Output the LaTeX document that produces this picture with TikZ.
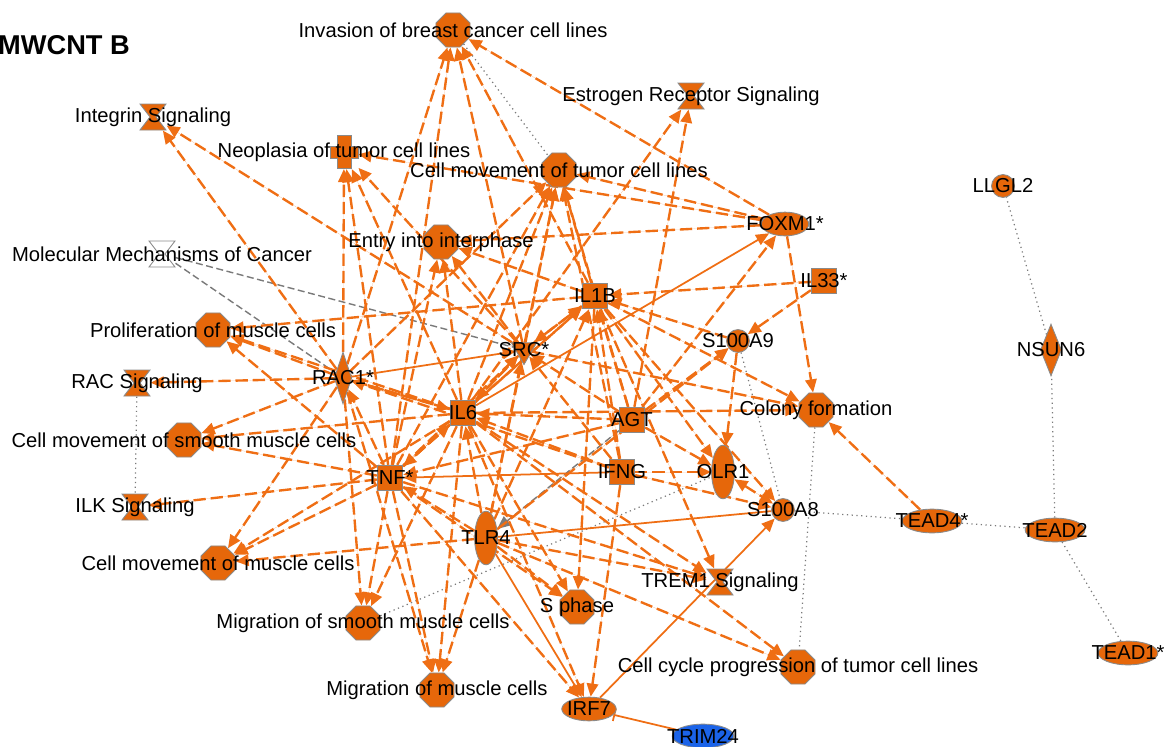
\documentclass[tikz,border=0pt]{standalone}
\usepackage{fontspec}
\setmainfont{Liberation Sans}
\usetikzlibrary{arrows.meta, calc, backgrounds, shapes.geometric}
\definecolor{ipaorange}{HTML}{E6670A}
\definecolor{edgeorange}{HTML}{EF6E14}
\definecolor{shapegray}{HTML}{8A8A8A}
\definecolor{downblue}{HTML}{1B63E8}
\definecolor{linkgray}{HTML}{7A7A7A}

\begin{document}
\begin{tikzpicture}[
    x=0.02cm, y=-0.02cm,
    font=\fontsize{11.5}{13}\selectfont,
    >={Triangle[length=7.5pt, width=6.5pt]},
    base/.style={
        draw=shapegray, fill=ipaorange, line width=0.5pt, inner sep=0pt,
    },
    func/.style={base, regular polygon, regular polygon sides=8, minimum size=21pt},
    cyto/.style={base, rectangle, minimum width=14.5pt, minimum height=14.5pt},
    kinase/.style={base, regular polygon, regular polygon sides=3,
        shape border rotate=180, minimum size=16.5pt},
    enzyme/.style={base, diamond, aspect=0.35, minimum width=10pt, minimum height=29.5pt},
    other/.style={base, circle, minimum size=13pt},
    treg/.style={base, ellipse, minimum width=30pt, minimum height=13.5pt},
    recep/.style={base, ellipse, minimum width=13pt, minimum height=30.5pt},
    pathway/.style={inner sep=0pt, minimum width=15pt, minimum height=15pt},
    disease/.style={inner sep=0pt, minimum width=16pt, minimum height=19pt},
    lbl/.style={inner sep=0pt, text=black},
    act/.style={
        ->, draw=edgeorange, fill=edgeorange, line width=1.35pt,
        dash pattern=on 7pt off 2.8pt,
    },
    direct/.style={->, draw=edgeorange, fill=edgeorange, line width=1pt},
    assoc/.style={draw=linkgray, line width=0.7pt, dotted},
    pred/.style={draw=linkgray, line width=0.8pt, dash pattern=on 4pt off 2pt},
]
\useasboundingbox (0,0) rectangle (1167,747);

% Title
\node[font=\fontsize{15.5}{18}\selectfont\bfseries, anchor=west] (title) at (-8,45) {MWCNT B};

% Functions (octagons)
\node[func, label={[lbl]center:Invasion of breast cancer cell lines}] (inv) at (453,30) {};
\node[func, label={[lbl]center:Cell movement of tumor cell lines}] (cmtum) at (559,170) {};
\node[func, label={[lbl]center:Entry into interphase}] (entry) at (441,242) {};
\node[func, label={[lbl]center:Proliferation of muscle cells}] (prolif) at (213,330) {};
\node[func, label={[lbl]center:Colony formation}] (colony) at (816,410) {};
\node[func, label={[lbl]center:Cell movement of smooth muscle cells}] (cmsmc) at (184,440) {};
\node[func, label={[lbl]center:Cell movement of muscle cells}] (cmmc) at (218,563) {};
\node[func, label={[lbl]center:S phase}] (sph) at (577,607) {};
\node[func, label={[lbl]center:Migration of smooth muscle cells}] (migsmc) at (363,623) {};
\node[func, label={[lbl]center:Cell cycle progression of tumor cell lines}] (ccp) at (798,667) {};
\node[func, label={[lbl]center:Migration of muscle cells}] (migmc) at (437,690) {};

% Pathways and disease (shapes drawn below)
\node[pathway, label={[lbl]center:Integrin Signaling}] (integ) at (153,117) {};
\node[pathway, label={[lbl]center:Estrogen Receptor Signaling}] (estr) at (691,96) {};
\node[pathway, label={[lbl]center:Molecular Mechanisms of Cancer}] (mmc) at (162,254) {};
\node[pathway, label={[lbl]center:RAC Signaling}] (racsig) at (137,383) {};
\node[pathway, label={[lbl]center:ILK Signaling}] (ilk) at (135,507) {};
\node[pathway, label={[lbl]center:TREM1 Signaling}] (trem) at (720,582) {};
\node[disease, label={[lbl]center:Neoplasia of tumor cell lines}] (neo) at (344,152) {};

% Molecules
\node[treg, minimum width=27pt, label={[lbl]center:FOXM1*}] (foxm) at (785,224) {};
\node[cyto, label={[lbl]center:IL33*}] (il33) at (824,281) {};
\node[cyto, label={[lbl]center:IL1B}] (ilb) at (595,296) {};
\node[other, label={[lbl]center:S100A9}] (s9) at (738,341) {};
\node[kinase, label={[lbl]center:SRC*}] (src) at (524,350) {};
\node[enzyme, label={[lbl]center:RAC1*}] (rac) at (343,378) {};
\node[cyto, label={[lbl]center:IL6}] (il6) at (463,413) {};
\node[cyto, label={[lbl]center:AGT}] (agt) at (632,420) {};
\node[cyto, label={[lbl]center:IFNG}] (ifng) at (622,472) {};
\node[recep, label={[lbl]center:OLR1}] (olr) at (723,472) {};
\node[cyto, label={[lbl]center:TNF*}] (tnf) at (390,478) {};
\node[other, label={[lbl]center:S100A8}] (s8) at (783,510) {};
\node[recep, label={[lbl]center:TLR4}] (tlr) at (486,538) {};
\node[treg, minimum width=31pt, label={[lbl]center:IRF7}] (irf) at (589,709) {};
\node[treg, fill=downblue, minimum width=35pt, label={[lbl]center:TRIM24}] (trim) at (703,736) {};
\node[other, label={[lbl]center:LLGL2}] (llgl) at (1003,186) {};
\node[enzyme, minimum width=12pt, label={[lbl]center:NSUN6}] (nsun) at (1051,350) {};
\node[treg, minimum width=34pt, label={[lbl]center:TEAD4*}] (tead4) at (932,521) {};
\node[treg, minimum width=34pt, label={[lbl]center:TEAD2}] (tead2) at (1055,530) {};
\node[treg, minimum width=34pt, label={[lbl]center:TEAD1*}] (tead1) at (1128,653) {};

\begin{scope}[on background layer]
% Associations
\foreach \a/\b in {inv/cmtum, racsig/ilk, s9/s8, colony/ccp, s8/tead4, tead4/tead2,
    tead2/tead1, tead2/nsun, nsun/llgl, migsmc/olr}
    \draw[assoc] (\a) -- (\b);
\draw[pred] (mmc) -- (rac);
\draw[pred] (mmc) -- (src);
\draw[pred, ->, fill=linkgray] (agt) -- (tlr);

% Indirect activation
\foreach \a/\b in {rac/inv, src/inv, ilb/inv, foxm/inv, tnf/inv,
    rac/integ, src/integ,
    rac/neo, tnf/neo, il6/neo, src/neo, foxm/neo,
    il6/estr, agt/estr,
    rac/cmtum, tnf/cmtum, il6/cmtum, src/cmtum, ilb/cmtum, agt/cmtum, foxm/cmtum, tlr/cmtum, ifng/cmtum,
    tnf/entry, il6/entry, src/entry, foxm/entry, ilb/entry,
    rac/prolif, il6/prolif, ilb/prolif, tnf/prolif,
    rac/racsig, rac/cmsmc, il6/cmsmc, tnf/cmsmc, tnf/ilk,
    tnf/cmmc, rac/cmmc, il6/cmmc, tlr/cmmc,
    rac/migsmc, tnf/migsmc, il6/migsmc,
    tnf/migmc, il6/migmc, tlr/migmc, rac/migmc,
    tnf/sph, il6/sph, tlr/sph, ilb/sph,
    tlr/ccp, il6/ccp,
    il6/trem, tnf/trem, tlr/trem, ilb/trem,
    ifng/irf, tnf/irf, il6/irf,
    foxm/colony, ilb/colony, src/colony, tead4/colony, il6/colony,
    il33/s9, agt/s9, tlr/s9, agt/foxm,
    s9/ilb, il33/ilb, src/ilb, agt/ilb, ifng/ilb, tlr/ilb, tnf/ilb, il6/ilb,
    s9/olr, ifng/olr, agt/olr, ilb/olr, ifng/s8, ilb/s8,
    ilb/src, il6/src, tnf/src, agt/src, tlr/src, ifng/src,
    src/il6, tnf/il6, agt/il6, ifng/il6, tlr/il6, rac/il6,
    il6/rac, tnf/rac, ifng/rac,
    tlr/tnf, agt/tnf, il6/tnf}
    \draw[act] (\a) -- (\b);
\draw[act, <->] (olr) -- (s8);

% Direct links
\foreach \a/\b in {rac/src, il6/foxm, ifng/tnf, tlr/irf, irf/s8}
    \draw[direct] (\a) -- (\b);
\draw[direct, -] (tlr) -- (s8);
\draw[direct, -{Bar[width=7pt]}] (trim) -- (irf);

% Pathway and disease shapes
\foreach \n in {integ, estr, racsig, ilk, trem}
    \filldraw[shift={(\n)}, fill=ipaorange, draw=shapegray, line width=0.5pt]
        (-13,-13) -- (13,-13) -- (3,0) -- (13,13) -- (-13,13) -- (-3,0) -- cycle;
\filldraw[shift={(mmc)}, fill=white, draw=shapegray, line width=0.5pt]
    (-13,-13) -- (13,-13) -- (3,0) -- (13,13) -- (-13,13) -- (-3,0) -- cycle;
\filldraw[shift={(neo)}, fill=ipaorange, draw=shapegray, line width=0.5pt]
    (-7,-16.5) -- (7,-16.5) -- (7,-6) -- (14,-6) -- (14,6) -- (7,6) -- (7,16.5)
    -- (-7,16.5) -- (-7,6) -- (-14,6) -- (-14,-6) -- (-7,-6) -- cycle;
\end{scope}

\end{tikzpicture}
\end{document}
